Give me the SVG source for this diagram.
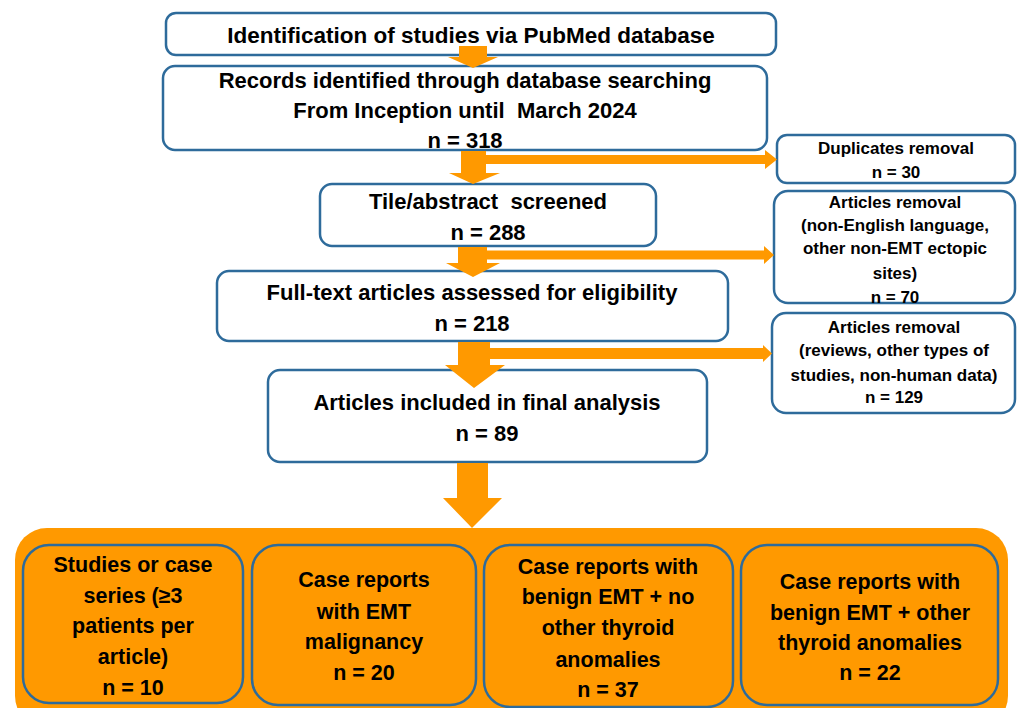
<svg xmlns="http://www.w3.org/2000/svg" width="1017" height="708" viewBox="0 0 1017 708">
<defs>
<style>
.box{fill:#ffffff;stroke:#2e6b9b;stroke-width:2.5}
.ibox{fill:#ff9900;stroke:#2e6b9b;stroke-width:2.5}
.arr{fill:#ff9900}
text{font-family:"Liberation Sans",Arial,sans-serif;font-weight:bold;fill:#000;text-anchor:middle;white-space:pre}
.m{font-size:22px}
.t{font-size:22.5px}
.s{font-size:17px}
.b{font-size:21.5px}
</style>
</defs>
<rect width="1017" height="708" fill="#ffffff"/>

<g id="n1">
<rect class="box" x="166" y="13" width="610" height="42" rx="10"/>
<text class="t" x="471" y="43">Identification of studies via PubMed database</text>
</g>
<g id="n2">
<rect class="box" x="163" y="66" width="604" height="84" rx="12"/>
<text class="m" x="465" y="88">Records identified through database searching</text>
<text class="m" x="465" y="118">From Inception until  March 2024</text>
<text class="m" x="465" y="148">n = 318</text>
</g>
<g id="n3">
<rect class="box" x="320" y="184" width="336" height="62" rx="12"/>
<text class="m" x="488" y="209">Tile/abstract  screened</text>
<text class="m" x="488" y="240">n = 288</text>
</g>
<g id="n4">
<rect class="box" x="217" y="271" width="511" height="70" rx="12"/>
<text class="m" x="472" y="300">Full-text articles assessed for eligibility</text>
<text class="m" x="472" y="331">n = 218</text>
</g>
<g id="n5">
<rect class="box" x="268" y="370" width="439" height="92" rx="12"/>
<text class="m" x="487" y="410">Articles included in final analysis</text>
<text class="m" x="487" y="441">n = 89</text>
</g>

<g id="r1">
<rect class="box" x="777" y="135" width="238" height="48" rx="10"/>
<text class="s" x="896" y="154">Duplicates removal</text>
<text class="s" x="896" y="178">n = 30</text>
</g>
<g id="r2">
<rect class="box" x="774" y="191" width="241" height="112" rx="14"/>
<text class="s" x="895" y="208">Articles removal</text>
<text class="s" x="895" y="231">(non-English language,</text>
<text class="s" x="895" y="254">other non-EMT ectopic</text>
<text class="s" x="895" y="279">sites)</text>
<text class="s" x="895" y="303">n = 70</text>
</g>
<g id="r3">
<rect class="box" x="772" y="313" width="243" height="100" rx="14"/>
<text class="s" x="894" y="333">Articles removal</text>
<text class="s" x="894" y="356">(reviews, other types of</text>
<text class="s" x="894" y="381">studies, non-human data)</text>
<text class="s" x="894" y="403">n = 129</text>
</g>

<g id="container">
<rect x="15" y="528" width="993" height="200" rx="32" fill="#ff9900"/>
</g>
<g id="c1">
<rect class="ibox" x="23" y="545" width="220" height="158" rx="26"/>
<text class="b" x="133" y="572">Studies or case</text>
<text class="b" x="133" y="603">series (≥3</text>
<text class="b" x="133" y="633">patients per</text>
<text class="b" x="133" y="664">article)</text>
<text class="b" x="133" y="695">n = 10</text>
</g>
<g id="c2">
<rect class="ibox" x="252" y="545" width="224" height="160" rx="26"/>
<text class="b" x="364" y="587">Case reports</text>
<text class="b" x="364" y="619">with EMT</text>
<text class="b" x="364" y="649">malignancy</text>
<text class="b" x="364" y="680">n = 20</text>
</g>
<g id="c3">
<rect class="ibox" x="484" y="545" width="249" height="162" rx="26"/>
<text class="b" x="608" y="574">Case reports with</text>
<text class="b" x="608" y="604">benign EMT + no</text>
<text class="b" x="608" y="635">other thyroid</text>
<text class="b" x="608" y="667">anomalies</text>
<text class="b" x="608" y="697">n = 37</text>
</g>
<g id="c4">
<rect class="ibox" x="741" y="545" width="257" height="160" rx="26"/>
<text class="b" x="870" y="589">Case reports with</text>
<text class="b" x="870" y="620">benign EMT + other</text>
<text class="b" x="870" y="650">thyroid anomalies</text>
<text class="b" x="870" y="680">n = 22</text>
</g>

<g id="connectors">
<polygon class="arr" points="459,46 487,46 487,57 498,57 473,68 448,57 459,57"/>
<polygon class="arr" points="461,151 486,151 486,173 500,173 473,184 449,173 461,173"/>
<polygon class="arr" points="486,155 765,155 765,150 777,159.5 765,169 765,164 486,164"/>
<polygon class="arr" points="458,247 487,247 487,263 500,263 473,277 446,263 458,263"/>
<polygon class="arr" points="487,250.5 764,250.5 764,246 774,255 764,264 764,259.5 487,259.5"/>
<polygon class="arr" points="458,342 490,342 490,365 505,365 474,388 445,365 458,365"/>
<polygon class="arr" points="490,348 763,348 763,345 772,353.5 763,362 763,359 490,359"/>
<polygon class="arr" points="457,463 488,463 488,498 502,498 472,528 443,498 457,498"/>
</g>
</svg>
